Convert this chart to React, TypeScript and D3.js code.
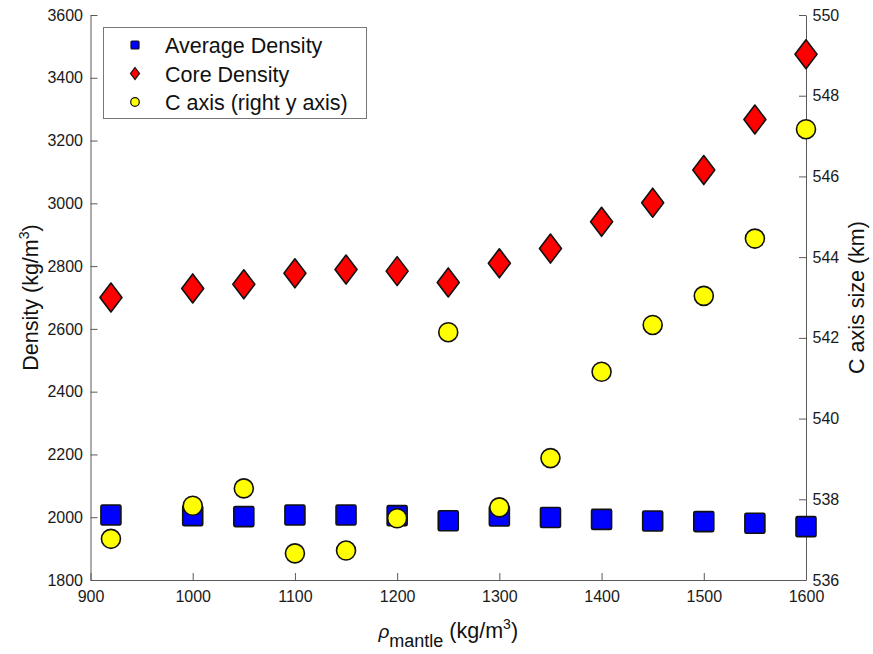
import React, { useEffect, useRef } from "react";
import * as d3 from "d3";

// mantle density (x axis)
const rhoMantle = [920, 1000, 1050, 1100, 1150, 1200, 1250, 1300, 1350, 1400, 1450, 1500, 1550, 1600];
// left y axis
const avgDensity = [2007, 2005, 2002, 2007, 2007, 2005, 1989, 2004, 1999, 1993, 1988, 1986, 1981, 1970];
const coreDensity = [2700, 2729, 2742, 2777, 2789, 2784, 2748, 2809, 2856, 2941, 3002, 3106, 3267, 3475];
// right y axis
const cAxis = [537.02, 537.84, 538.27, 536.66, 536.73, 537.53, 542.14, 537.8, 539.02, 541.16, 542.32, 543.04, 544.46, 547.17];

const xTicks = [900, 1000, 1100, 1200, 1300, 1400, 1500, 1600];
const yTicks = [1800, 2000, 2200, 2400, 2600, 2800, 3000, 3200, 3400, 3600];
const y2Ticks = [536, 538, 540, 542, 544, 546, 548, 550];

const legendLabels = ["Average Density", "Core Density", "C axis (right y axis)"];

const FONT = "'Liberation Sans', Arial, Helvetica, sans-serif";

export default function App() {
  const ref = useRef<SVGSVGElement>(null);

  useEffect(() => {
    const svg = d3.select(ref.current);
    svg.selectAll("*").remove();

    const left = 90.5, right = 806, top = 15, bottom = 580;
    const axisColor = "#5a5a5a";
    const textColor = "#1a1a1a";
    const fmt = d3.format("d");

    const x = d3.scaleLinear().domain([900, 1600]).range([left, right]);
    const y = d3.scaleLinear().domain([1800, 3600]).range([bottom, top]);
    const y2 = d3.scaleLinear().domain([536, 550]).range([bottom, top]);

    const styleAxis = (g) => {
      g.select(".domain").attr("stroke", axisColor).attr("stroke-width", 1);
      g.selectAll(".tick line").attr("stroke", axisColor);
      g.selectAll(".tick text")
        .attr("fill", textColor)
        .style("font-family", FONT)
        .style("font-size", "16px");
    };

    // bottom axis
    svg.append("g")
      .attr("transform", `translate(0,${bottom})`)
      .call(d3.axisBottom(x).tickValues(xTicks).tickFormat(fmt).tickSizeInner(-7).tickSizeOuter(0).tickPadding(10.5))
      .call(styleAxis);

    // left axis
    svg.append("g")
      .attr("transform", `translate(${left},0)`)
      .call(d3.axisLeft(y).tickValues(yTicks).tickFormat(fmt).tickSizeInner(-7).tickSizeOuter(0).tickPadding(7.5))
      .call(styleAxis);

    // right axis
    svg.append("g")
      .attr("transform", `translate(${right},0)`)
      .call(d3.axisRight(y2).tickValues(y2Ticks).tickFormat(fmt).tickSizeInner(-7).tickSizeOuter(0).tickPadding(6.5))
      .call(styleAxis);

    // average density squares
    const sq = 20;
    svg.append("g")
      .selectAll("rect")
      .data(rhoMantle)
      .enter()
      .append("rect")
      .attr("x", d => x(d) - sq / 2)
      .attr("y", (d, i) => y(avgDensity[i]) - sq / 2)
      .attr("width", sq)
      .attr("height", sq)
      .attr("rx", 1.5)
      .attr("fill", "#0000ff")
      .attr("stroke", "#111")
      .attr("stroke-width", 1.6);

    // core density diamonds
    const dw = 11, dh = 14.5;
    const diamond = (cx, cy, w, h) => `M${cx},${cy - h}L${cx + w},${cy}L${cx},${cy + h}L${cx - w},${cy}Z`;
    svg.append("g")
      .selectAll("path")
      .data(rhoMantle)
      .enter()
      .append("path")
      .attr("d", (d, i) => diamond(x(d), y(coreDensity[i]), dw, dh))
      .attr("fill", "#ff0000")
      .attr("stroke", "#111")
      .attr("stroke-width", 1.6)
      .attr("stroke-linejoin", "round");

    // C axis circles (right axis)
    svg.append("g")
      .selectAll("circle")
      .data(rhoMantle)
      .enter()
      .append("circle")
      .attr("cx", d => x(d))
      .attr("cy", (d, i) => y2(cAxis[i]))
      .attr("r", 9.5)
      .attr("fill", "#ffff00")
      .attr("stroke", "#111")
      .attr("stroke-width", 1.6);

    // legend
    const lg = svg.append("g");
    lg.append("rect")
      .attr("x", 103.5).attr("y", 27.5)
      .attr("width", 263).attr("height", 91)
      .attr("fill", "#fff")
      .attr("stroke", "#777")
      .attr("stroke-width", 1);
    const rows = [45, 73.5, 102];
    lg.append("rect")
      .attr("x", 131).attr("y", rows[0] - 4)
      .attr("width", 8).attr("height", 8)
      .attr("rx", 1)
      .attr("fill", "#0000ff").attr("stroke", "#111").attr("stroke-width", 1.2);
    lg.append("path")
      .attr("d", diamond(135, rows[1], 4.5, 6))
      .attr("fill", "#ff0000").attr("stroke", "#111").attr("stroke-width", 1.2);
    lg.append("circle")
      .attr("cx", 135).attr("cy", rows[2]).attr("r", 4.3)
      .attr("fill", "#ffff00").attr("stroke", "#111").attr("stroke-width", 1.2);
    lg.selectAll("text.lab")
      .data(legendLabels)
      .enter()
      .append("text")
      .attr("x", 165)
      .attr("y", (d, i) => rows[i] + 8)
      .attr("fill", "#111")
      .style("font-family", FONT)
      .style("font-size", "21.5px")
      .text(d => d);

    // left y label
    const yl = svg.append("text")
      .attr("transform", `translate(38,${(top + bottom) / 2}) rotate(-90)`)
      .attr("text-anchor", "middle")
      .attr("fill", "#111")
      .style("font-family", FONT)
      .style("font-size", "21.5px");
    yl.append("tspan").text("Density (kg/m");
    yl.append("tspan").attr("dy", -9).style("font-size", "14px").text("3");
    yl.append("tspan").attr("dy", 9).text(")");

    // right y label
    svg.append("text")
      .attr("transform", `translate(864,${(top + bottom) / 2}) rotate(-90)`)
      .attr("text-anchor", "middle")
      .attr("fill", "#111")
      .style("font-family", FONT)
      .style("font-size", "21.5px")
      .text("C axis size (km)");

    // x label
    const xl = svg.append("text")
      .attr("x", (left + right) / 2)
      .attr("y", 638)
      .attr("text-anchor", "middle")
      .attr("fill", "#111")
      .style("font-family", FONT)
      .style("font-size", "21.5px");
    xl.append("tspan").style("font-style", "italic").style("font-size", "19px").text("ρ");
    xl.append("tspan").attr("dy", 9).style("font-size", "18px").text("mantle");
    xl.append("tspan").attr("dy", -9).text(" (kg/m");
    xl.append("tspan").attr("dy", -9).style("font-size", "14px").text("3");
    xl.append("tspan").attr("dy", 9).text(")");
  }, []);

  return (
    <svg
      ref={ref}
      width={873}
      height={654}
      style={{ position: "absolute", left: 0, top: 0, background: "#fff" }}
    />
  );
}
